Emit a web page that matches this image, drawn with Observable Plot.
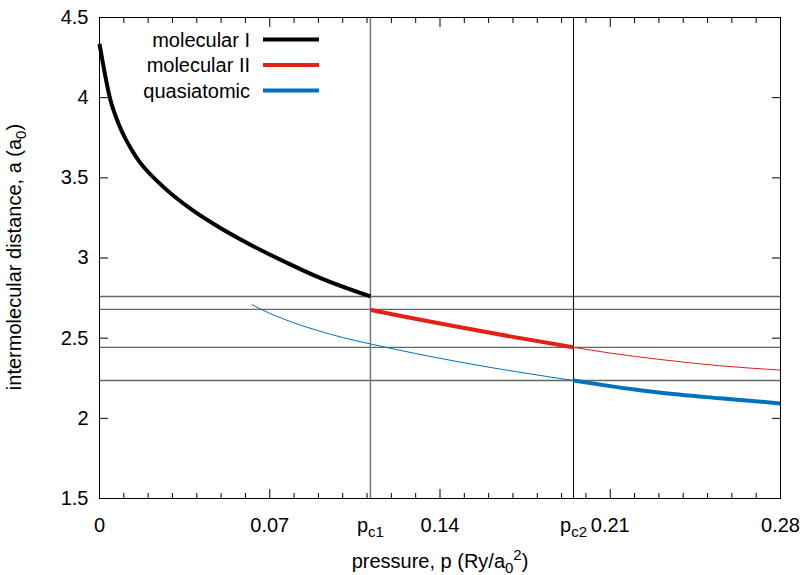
<!DOCTYPE html>
<html><head><meta charset="utf-8">
<script src="https://cdn.jsdelivr.net/npm/d3@7"></script>
<script src="https://cdn.jsdelivr.net/npm/@observablehq/plot@0.6"></script>
<style>body{margin:0;background:#fff}</style>
</head><body><div id="chart"></div>
<script>
// critical pressures
const pc1 = 0.1114, pc2 = 0.1949;
// molecular I (thick, stable branch)
const molIp = [0, 0.0045, 0.0079, 0.0148, 0.0258, 0.0381, 0.0497, 0.0634, 0.0772, 0.0909, 0.1114];
const molIa = [4.336, 3.985, 3.835, 3.636, 3.450, 3.300, 3.187, 3.072, 2.969, 2.874, 2.760];
// molecular II: stable (thick) and metastable (thin)
const molIIp = [0.1114, 0.125, 0.145, 0.17, 0.1949];
const molIIa = [2.677, 2.635, 2.577, 2.508, 2.443];
const molIIthinP = [0.1949, 0.21, 0.23, 0.255, 0.28];
const molIIthinA = [2.443, 2.407, 2.368, 2.328, 2.301];
// quasiatomic: metastable (thin) and stable (thick)
const quasiThinP = [0.0628, 0.07, 0.08, 0.09, 0.10, 0.1114, 0.13, 0.15, 0.1725, 0.1949];
const quasiThinA = [2.708, 2.655, 2.595, 2.546, 2.504, 2.464, 2.404, 2.346, 2.288, 2.236];
const quasiP = [0.1949, 0.21, 0.23, 0.255, 0.28];
const quasiA = [2.236, 2.201, 2.161, 2.125, 2.093];
// horizontal reference levels
const levelLines = [2.760, 2.679, 2.442, 2.236];
// ticks
const xMajor = [0, 0.07, 0.14, 0.21, 0.28];
const xMinor = [0.01,0.02,0.03,0.04,0.05,0.06,0.08,0.09,0.10,0.11,0.12,0.13,0.15,0.16,0.17,0.18,0.19,0.20,0.22,0.23,0.24,0.25,0.26,0.27];
const yMajor = [1.5, 2, 2.5, 3, 3.5, 4, 4.5];
const yLabels = ["1.5", "2", "2.5", "3", "3.5", "4", "4.5"];
const xLabelVals = [0, 0.07, pc1, 0.14, pc2, 0.21, 0.28];
const xLabelText = ["0", "0.07", "pc1", "0.14", "pc2", "0.21", "0.28"];
const legendNames = ["molecular I", "molecular II", "quasiatomic"];
const colors = ["#000000", "#e41f14", "#0072bd"];

const rows = (ps, as) => ps.map((p, i) => ({p, a: as[i]}));

const font = "'Liberation Sans', Arial, Helvetica, sans-serif";
const chart = Plot.plot({
  width: 806, height: 575,
  marginLeft: 99, marginRight: 26, marginTop: 17, marginBottom: 77,
  x: {domain: [0, 0.28], label: null},
  y: {domain: [1.5, 4.5], label: null},
  style: {fontFamily: font, fontSize: "20px", color: "#000", background: "#fff"},
  marks: [
    Plot.ruleY(levelLines, {stroke: "#666", strokeWidth: 1.3}),
    Plot.ruleX([pc1], {stroke: "#777", strokeWidth: 1.5}),
    Plot.ruleX([pc2], {stroke: "#000", strokeWidth: 1}),
    Plot.line(rows(quasiThinP, quasiThinA), {x: "p", y: "a", stroke: colors[2], strokeWidth: 1, curve: "monotone-x"}),
    Plot.line(rows(molIIthinP, molIIthinA), {x: "p", y: "a", stroke: colors[1], strokeWidth: 1, curve: "monotone-x"}),
    Plot.line(rows(molIp, molIa), {x: "p", y: "a", stroke: colors[0], strokeWidth: 4, curve: "monotone-x", strokeLinecap: "butt"}),
    Plot.line(rows(molIIp, molIIa), {x: "p", y: "a", stroke: colors[1], strokeWidth: 4, curve: "monotone-x", strokeLinecap: "butt"}),
    Plot.line(rows(quasiP, quasiA), {x: "p", y: "a", stroke: colors[2], strokeWidth: 4, curve: "monotone-x", strokeLinecap: "butt"}),
    Plot.frame({stroke: "#000", strokeWidth: 1}),
    Plot.axisX({anchor: "bottom", ticks: xMajor, tickSize: -9, tickFormat: () => "", label: null}),
    Plot.axisX({anchor: "bottom", ticks: xMinor, tickSize: -5, tickFormat: () => "", label: null}),
    Plot.axisX({anchor: "top", ticks: xMajor, tickSize: -9, tickFormat: () => "", label: null}),
    Plot.axisX({anchor: "top", ticks: xMinor, tickSize: -5, tickFormat: () => "", label: null}),
    Plot.axisY({anchor: "left", ticks: yMajor, tickSize: -9, tickFormat: () => "", label: null}),
    Plot.axisY({anchor: "right", ticks: yMajor, tickSize: -9, tickFormat: () => "", label: null}),
    Plot.axisX({anchor: "bottom", ticks: xLabelVals, tickSize: 0, tickPadding: 19,
      tickFormat: d => xLabelText[xLabelVals.indexOf(d)], label: null}),
    Plot.axisY({anchor: "left", ticks: yMajor, tickSize: 0, tickPadding: 11,
      tickFormat: d => yLabels[yMajor.indexOf(d)], label: null})
  ]
});
document.getElementById("chart").appendChild(chart);

const svg = d3.select(chart);
// subscripted tick labels p_c1, p_c2
svg.selectAll("text").each(function() {
  const t = this.textContent;
  if (t === "pc1" || t === "pc2") {
    const sel = d3.select(this);
    sel.text(null);
    sel.append("tspan").text("p");
    sel.append("tspan").attr("font-size", "15px").attr("dy", 5).text(t.slice(1));
  }
});

// axis titles
const xt = svg.append("text").attr("x", 440).attr("y", 568).attr("text-anchor", "middle")
  .attr("font-family", font).attr("font-size", "20px").attr("fill", "#000");
xt.append("tspan").text("pressure, p (Ry/a");
xt.append("tspan").attr("font-size", "15px").attr("dy", 5).text("0");
xt.append("tspan").attr("font-size", "15px").attr("dy", -13).text("2");
xt.append("tspan").attr("dy", 8).text(")");

const yt = svg.append("text").attr("transform", "translate(21,257) rotate(-90)").attr("text-anchor", "middle")
  .attr("font-family", font).attr("font-size", "20px").attr("fill", "#000");
yt.append("tspan").text("intermolecular distance, a (a");
yt.append("tspan").attr("font-size", "15px").attr("dy", 5).text("0");
yt.append("tspan").attr("dy", -5).text(")");

// legend
const lg = svg.append("g").attr("font-family", font).attr("font-size", "20px");
legendNames.forEach((name, i) => {
  const cy = 39.5 + i * 25.5;
  lg.append("text").attr("x", 250).attr("y", cy).attr("dy", "0.35em").attr("text-anchor", "end").attr("fill", "#000").text(name);
  lg.append("line").attr("x1", 263).attr("x2", 319).attr("y1", cy).attr("y2", cy)
    .attr("stroke", colors[i]).attr("stroke-width", 4);
});
</script>
</body></html>
